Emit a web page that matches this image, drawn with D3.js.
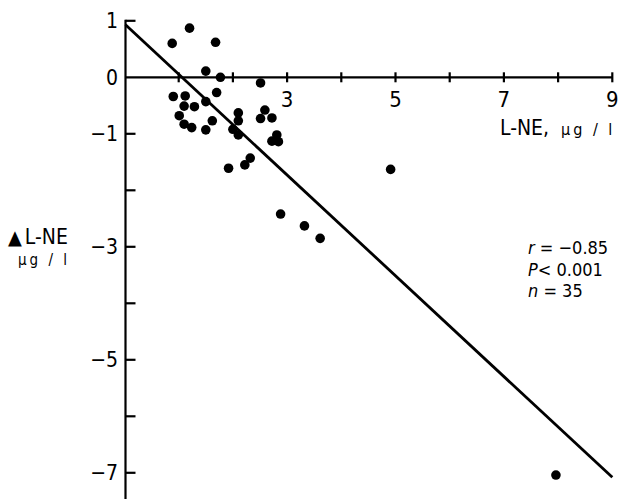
<!DOCTYPE html>
<html>
<head>
  <meta charset="utf-8">
  <script src="https://d3js.org/d3.v7.min.js"></script>
  <style>
    body {
      margin: 0;
      background: #fff;
    }

    svg text {
      font-family: 'Liberation Sans Narrow', 'DejaVu Sans Condensed', sans-serif;
      fill: #000;
    }
  </style>
</head>
<body>
  <div id="chart"></div>
  <script>
    // plasma L-NE (x) vs change in L-NE (y), ug/l
    const lneValues = [1.20, 0.88, 1.68, 1.50, 1.77, 0.90, 1.12, 1.70, 1.10, 1.29,
      1.50, 1.01, 1.10, 1.24, 1.62, 1.50, 2.51, 2.10, 2.10, 2.59,
      2.51, 2.72, 2.00, 2.10, 2.81, 2.72, 2.84, 2.32, 2.22, 1.92,
      2.88, 3.32, 3.61, 4.91, 7.96];
    const deltaValues = [0.87, 0.60, 0.62, 0.11, 0.00, -0.34, -0.33, -0.27, -0.51, -0.52,
      -0.43, -0.68, -0.83, -0.89, -0.77, -0.93, -0.10, -0.63, -0.77, -0.58,
      -0.73, -0.72, -0.92, -1.02, -1.02, -1.13, -1.14, -1.43, -1.55, -1.61,
      -2.42, -2.63, -2.85, -1.63, -7.04];

    // regression line end points
    const fitX = [0, 9];
    const fitY = [0.93, -7.08];

    const xTicks = [1, 2, 3, 4, 5, 6, 7, 8, 9];
    const xTickLabels = [3, 5, 7, 9];
    const yTicks = [1, -1, -2, -3, -4, -5, -6, -7];
    const yTickLabels = [1, 0, -1, -3, -5, -7];
    const statLines = [["r", " = −0.85"], ["P", "< 0.001"], ["n", " = 35"]];

    const width = 620, height = 499;

    const svg = d3.select('#chart')
      .append('svg')
      .attr('width', width)
      .attr('height', height);

    const x = d3.scaleLinear().domain([0, 9]).range([124.5, 612.3]);
    const y = d3.scaleLinear().domain([1, -7]).range([20.8, 472.8]);

    const axes = svg.append('g')
      .attr('stroke', '#000')
      .attr('stroke-width', 2.2)
      .attr('fill', 'none');

    // y axis
    axes.append('line')
      .attr('x1', x(0) + 1).attr('x2', x(0) + 1)
      .attr('y1', y(1) - 1).attr('y2', height);

    axes.selectAll('.ytick')
      .data(yTicks)
      .enter()
      .append('line')
      .attr('x1', x(0) + 1)
      .attr('x2', x(0) + 11)
      .attr('y1', d => y(d))
      .attr('y2', d => y(d));

    // x axis
    axes.append('line')
      .attr('x1', x(0) + 1).attr('x2', x(9))
      .attr('y1', y(0)).attr('y2', y(0));

    axes.selectAll('.xtick')
      .data(xTicks)
      .enter()
      .append('line')
      .attr('x1', d => x(d))
      .attr('x2', d => x(d))
      .attr('y1', y(0) - 5)
      .attr('y2', y(0) + 5);

    svg.selectAll('.ylab')
      .data(yTickLabels)
      .enter()
      .append('text')
      .attr('x', 118)
      .attr('y', d => y(d) + 7.5)
      .attr('text-anchor', 'end')
      .style('font-size', '21px')
      .text(d => d < 0 ? '−' + Math.abs(d) : d);

    svg.selectAll('.xlab')
      .data(xTickLabels)
      .enter()
      .append('text')
      .attr('x', d => x(d))
      .attr('y', y(0) + 30)
      .attr('text-anchor', 'middle')
      .style('font-size', '22px')
      .text(d => d);

    // axis titles
    const xTitle = svg.append('text')
      .attr('x', 500)
      .attr('y', 135)
      .style('font-size', '21px');
    xTitle.append('tspan').text('L-NE,');
    xTitle.append('tspan')
      .attr('dx', 12)
      .style('font-size', '16px')
      .style('letter-spacing', '3px')
      .text('µg / l');

    const yTitle = svg.append('text')
      .attr('x', 8)
      .attr('y', 244)
      .style('font-size', '21px');
    yTitle.append('tspan')
      .style('font-size', '20px')
      .text('▲');
    yTitle.append('tspan')
      .attr('dx', 3)
      .text('L-NE');

    svg.append('text')
      .attr('x', 18)
      .attr('y', 265)
      .style('font-size', '15px')
      .style('letter-spacing', '3px')
      .text('µg / l');

    // statistics
    const stats = svg.selectAll('.stat')
      .data(statLines)
      .enter()
      .append('text')
      .attr('x', 528)
      .attr('y', (d, i) => 254 + i * 21.5)
      .style('font-size', '18px');
    stats.append('tspan')
      .style('font-style', 'italic')
      .text(d => d[0]);
    stats.append('tspan')
      .text(d => d[1]);

    // regression line
    svg.append('line')
      .attr('x1', x(fitX[0]) + 1)
      .attr('y1', y(fitY[0]))
      .attr('x2', x(fitX[1]))
      .attr('y2', y(fitY[1]))
      .attr('stroke', '#000')
      .attr('stroke-width', 2.8);

    // points
    svg.append('g')
      .selectAll('circle')
      .data(lneValues)
      .enter()
      .append('circle')
      .attr('cx', d => x(d))
      .attr('cy', (d, i) => y(deltaValues[i]))
      .attr('r', 4.8)
      .attr('fill', '#000');
  </script>
</body>
</html>
